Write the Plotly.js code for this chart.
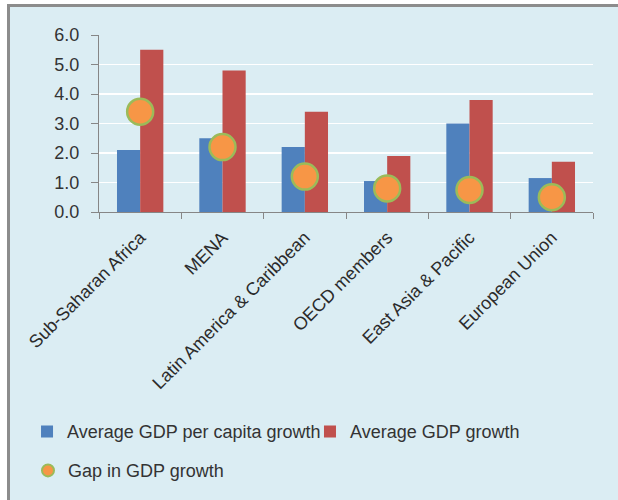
<!DOCTYPE html>
<html>
<head>
<meta charset="utf-8">
<script src="https://cdn.plot.ly/plotly-3.0.1.min.js"></script>
<style>
  html, body { margin: 0; padding: 0; background: #ffffff; width: 618px; height: 500px; overflow: hidden; }
  #frame { position: absolute; left: 7px; top: 4px; width: 611px; height: 496px; box-sizing: border-box;
           border-left: 3px solid #8c8c8c; border-top: 3px solid #8c8c8c; background: #dbedf3; }
  #chart { position: absolute; left: 10px; top: 7px; width: 608px; height: 493px; }
</style>
</head>
<body>
<div id="frame"></div>
<div id="chart"></div>
<script>
const categories = ["Sub-Saharan Africa", "MENA", "Latin America & Caribbean", "OECD members", "East Asia & Pacific", "European Union"];
const perCapitaGrowth = [2.1, 2.5, 2.2, 1.05, 3.0, 1.15];
const gdpGrowth = [5.5, 4.8, 3.4, 1.9, 3.8, 1.7];
const gapGrowth = [3.4, 2.2, 1.2, 0.8, 0.75, 0.5];
const yTicks = [0, 1, 2, 3, 4, 5, 6];

const FONT = "Liberation Sans, Arial, sans-serif";
const BG = "#dbedf3";
const AXIS = "#868686";

const traces = [
  { type: "bar", name: "Average GDP per capita growth", x: categories, y: perCapitaGrowth,
    marker: { color: "#4f81bd" }, legend: "legend" },
  { type: "bar", name: "Average GDP growth", x: categories, y: gdpGrowth,
    marker: { color: "#c0504d" }, legend: "legend2" },
  { type: "scatter", mode: "markers", name: "Gap in GDP growth", x: categories, y: gapGrowth,
    marker: { color: "#f79646", size: 26, line: { color: "#9bbb59", width: 2.5 } }, legend: "legend3" }
];

const legendBase = { orientation: "h", xref: "container", yref: "container", xanchor: "left", yanchor: "middle",
  bgcolor: "rgba(0,0,0,0)", font: { family: FONT, size: 18, color: "#333333" } };

const layout = {
  width: 608, height: 493,
  margin: { l: 89, r: 25, t: 28, b: 288, pad: 0 },
  paper_bgcolor: BG, plot_bgcolor: BG,
  font: { family: FONT, size: 18, color: "#333333" },
  barmode: "group", bargap: 0.437, bargroupgap: 0,
  xaxis: {
    type: "category", showline: true, linecolor: AXIS, linewidth: 1,
    ticks: "outside", tickson: "boundaries", ticklen: 6, tickcolor: AXIS,
    ticklabelstandoff: 7,
    tickangle: -45, tickfont: { family: FONT, size: 18, color: "#2b2b2b" },
    showgrid: false, zeroline: false
  },
  yaxis: {
    range: [0, 6], tickvals: yTicks, tickformat: ".1f",
    showline: true, linecolor: AXIS, linewidth: 1,
    ticks: "outside", ticklen: 7, tickcolor: AXIS, ticklabelstandoff: 8,
    tickfont: { family: FONT, size: 18, color: "#333333" },
    showgrid: true, gridcolor: "#ffffff", gridwidth: 1.5, zeroline: false
  },
  legend: Object.assign({}, legendBase, { x: 0.028, y: 0.1385 }),
  legend2: Object.assign({}, legendBase, { x: 0.4934, y: 0.1385 }),
  legend3: Object.assign({}, legendBase, { x: 0.0296, y: 0.0594, itemsizing: "constant" }),
  showlegend: true
};

Plotly.newPlot("chart", traces, layout, { displayModeBar: false, staticPlot: true });
</script>
</body>
</html>
